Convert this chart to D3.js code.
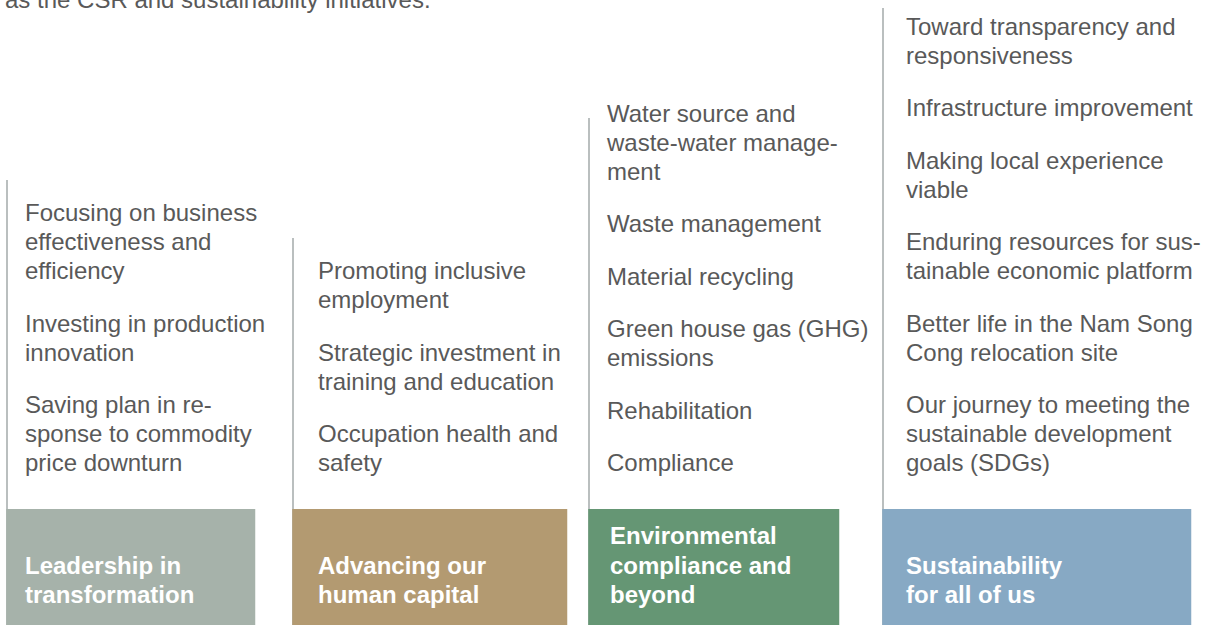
<!DOCTYPE html>
<meta charset="utf-8">
<style>
body { margin: 0; background: #fff; }
svg { display: block; font-family: "Liberation Sans", Arial, sans-serif; }
.item text { fill: #595959; font-size: 24px; }
.title text { fill: #fff; font-size: 24px; font-weight: bold; }
.rule { stroke: #a3aaaa; stroke-width: 1.5; }
</style>
<svg width="1213" height="625"></svg>
<script src="https://d3js.org/d3.v7.min.js"></script>
<script>
// pillar titles (already broken into lines as in the report)
var titles = [
  ["Leadership in", "transformation"],
  ["Advancing our", "human capital"],
  ["Environmental", "compliance and", "beyond"],
  ["Sustainability", "for all of us"]
];

var colors = ["#a6b2aa", "#b39a71", "#659674", "#87a9c4"];

// focus areas per pillar, each one a list of lines
var items = [
  [["Focusing on business", "effectiveness and", "efficiency"],
   ["Investing in production", "innovation"],
   ["Saving plan in re-", "sponse to commodity", "price downturn"]],
  [["Promoting inclusive", "employment"],
   ["Strategic investment in", "training and education"],
   ["Occupation health and", "safety"]],
  [["Water source and", "waste-water manage-", "ment"],
   ["Waste management"],
   ["Material recycling"],
   ["Green house gas (GHG)", "emissions"],
   ["Rehabilitation"],
   ["Compliance"]],
  [["Toward transparency and", "responsiveness"],
   ["Infrastructure improvement"],
   ["Making local experience", "viable"],
   ["Enduring resources for sus-", "tainable economic platform"],
   ["Better life in the Nam Song", "Cong relocation site"],
   ["Our journey to meeting the", "sustainable development", "goals (SDGs)"]]
];

var intro = "as the CSR and sustainability initiatives.";

// layout
var colX = [7, 293, 589, 883],
    boxW = [249, 275, 251, 309],
    ruleTop = [180, 238, 118, 8],
    textPad = [18, 25, 18, 23],
    titlePad = [18, 25, 21, 23];

var svg = d3.select("svg"),
    width = +svg.attr("width"),
    height = +svg.attr("height");

var boxTop = 509,
    linePitch = 29,
    itemGap = 52.5,
    lastLine = 463,
    titlePitch = 29.5,
    titleLast = 595;

svg.append("text")
    .attr("x", 5)
    .attr("y", 8)
    .attr("fill", "#595959")
    .style("font-size", "24px")
    .text(intro);

var col = svg.selectAll("g.col")
  .data(titles)
  .enter().append("g")
    .attr("class", "col")
    .attr("transform", function(d, i) { return "translate(" + colX[i] + ",0)"; });

col.append("line")
    .attr("class", "rule")
    .attr("x1", 0).attr("x2", 0)
    .attr("y1", function(d, i) { return ruleTop[i]; })
    .attr("y2", height);

col.append("rect")
    .attr("x", -0.75)
    .attr("y", boxTop)
    .attr("width", function(d, i) { return boxW[i]; })
    .attr("height", height - boxTop)
    .attr("fill", function(d, i) { return colors[i]; });

col.append("g")
    .attr("class", "title")
  .selectAll("text")
  .data(function(d, i) {
    return d.map(function(s, j) {
      return {s: s, x: titlePad[i], y: titleLast - (d.length - 1 - j) * titlePitch};
    });
  })
  .enter().append("text")
    .attr("x", function(d) { return d.x; })
    .attr("y", function(d) { return d.y; })
    .attr("dy", "0.35em")
    .text(function(d) { return d.s; });

// lay item lines out from the bottom up
function itemLines(list, pad) {
  var out = [], y = lastLine;
  for (var k = list.length - 1; k >= 0; k--) {
    var lines = list[k];
    for (var j = lines.length - 1; j >= 0; j--) {
      out.push({s: lines[j], x: pad, y: y});
      if (j > 0) y -= linePitch;
    }
    y -= itemGap;
  }
  return out;
}

col.append("g")
    .attr("class", "item")
  .selectAll("text")
  .data(function(d, i) { return itemLines(items[i], textPad[i]); })
  .enter().append("text")
    .attr("x", function(d) { return d.x; })
    .attr("y", function(d) { return d.y; })
    .attr("dy", "0.35em")
    .text(function(d) { return d.s; });
</script>
